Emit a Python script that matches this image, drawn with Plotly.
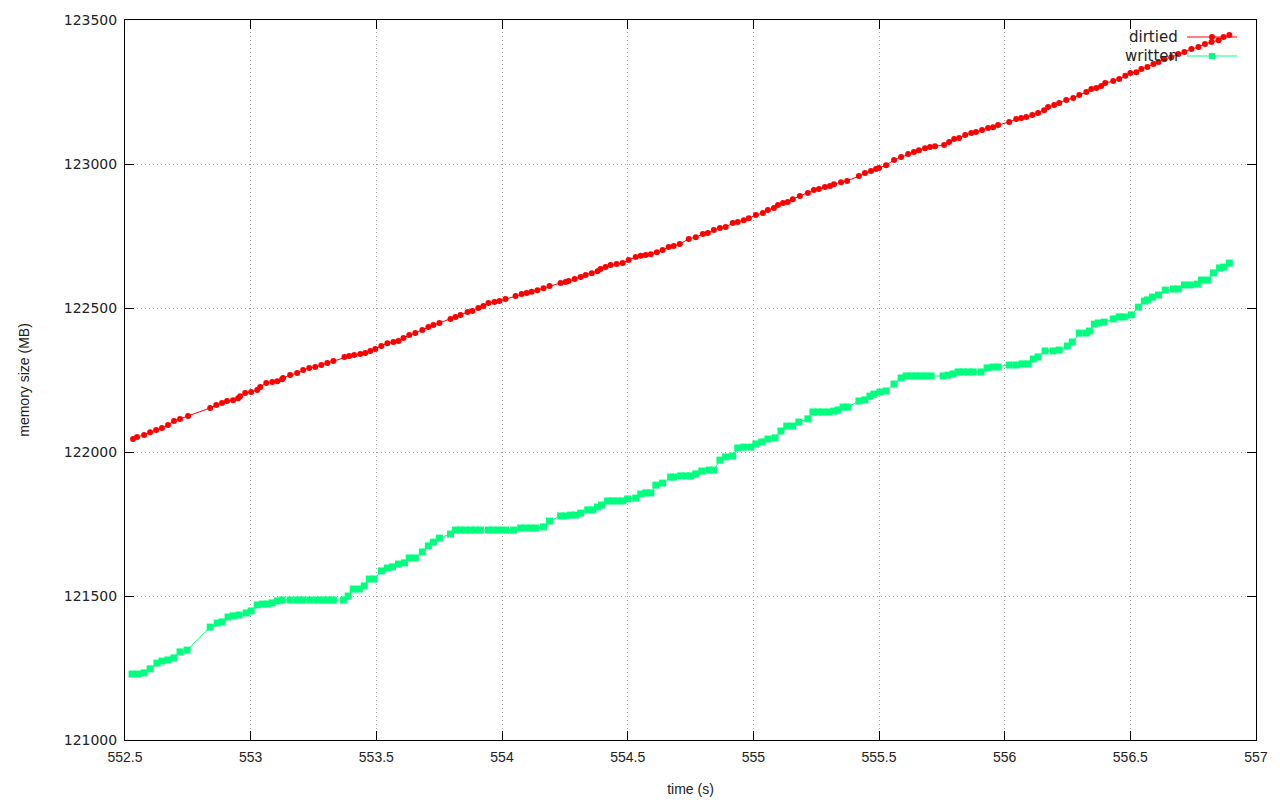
import plotly.graph_objects as go

# ---- data ----
dirtied_t = [552.532, 552.548, 552.576, 552.600, 552.624, 552.647, 552.671, 552.695, 552.719, 552.751,
             552.839, 552.863, 552.886, 552.906, 552.930, 552.950, 552.958, 552.978, 553.002, 553.026,
             553.038, 553.062, 553.086, 553.106, 553.125, 553.129, 553.157, 553.185, 553.209, 553.233,
             553.257, 553.281, 553.305, 553.329, 553.373, 553.392, 553.412, 553.436, 553.456, 553.476,
             553.496, 553.520, 553.544, 553.568, 553.588, 553.608, 553.631, 553.655, 553.683, 553.707,
             553.727, 553.751, 553.795, 553.815, 553.835, 553.863, 553.882, 553.906, 553.926, 553.946,
             553.970, 553.990, 554.014, 554.054, 554.078, 554.098, 554.118, 554.141, 554.165, 554.189,
             554.233, 554.253, 554.265, 554.289, 554.313, 554.333, 554.357, 554.380, 554.392, 554.412,
             554.432, 554.456, 554.480, 554.504, 554.532, 554.552, 554.572, 554.592, 554.616, 554.639,
             554.663, 554.683, 554.707, 554.743, 554.771, 554.799, 554.819, 554.843, 554.867, 554.890,
             554.918, 554.938, 554.962, 554.982, 555.010, 555.038, 555.058, 555.082, 555.098, 555.118,
             555.137, 555.157, 555.185, 555.217, 555.241, 555.261, 555.285, 555.305, 555.321, 555.349,
             555.373, 555.420, 555.444, 555.468, 555.488, 555.500, 555.528, 555.560, 555.588, 555.616,
             555.639, 555.659, 555.683, 555.703, 555.723, 555.759, 555.779, 555.799, 555.819, 555.843,
             555.867, 555.886, 555.910, 555.934, 555.954, 555.974, 556.018, 556.046, 556.066, 556.086,
             556.110, 556.133, 556.157, 556.173, 556.197, 556.217, 556.245, 556.273, 556.297, 556.325,
             556.345, 556.365, 556.384, 556.400, 556.432, 556.456, 556.480, 556.500, 556.524, 556.544,
             556.568, 556.592, 556.612, 556.635, 556.663, 556.691, 556.715, 556.743, 556.771, 556.797,
             556.823, 556.851, 556.871, 556.894]
dirtied_mb = [122045, 122052, 122059, 122069, 122076, 122083, 122094, 122108, 122115, 122125,
              122153, 122163, 122170, 122177, 122180, 122187, 122194, 122205, 122208, 122215,
              122226, 122240, 122243, 122246, 122253, 122257, 122267, 122274, 122285, 122292,
              122295, 122302, 122309, 122316, 122330, 122333, 122337, 122340, 122344, 122351,
              122358, 122368, 122378, 122382, 122385, 122396, 122406, 122413, 122424, 122434,
              122441, 122448, 122462, 122469, 122476, 122486, 122490, 122500, 122507, 122517,
              122521, 122524, 122531, 122542, 122549, 122552, 122556, 122562, 122569, 122576,
              122587, 122590, 122594, 122601, 122608, 122615, 122621, 122628, 122635, 122642,
              122649, 122653, 122656, 122667, 122677, 122681, 122684, 122687, 122694, 122701,
              122712, 122715, 122722, 122740, 122746, 122757, 122760, 122771, 122778, 122781,
              122795, 122799, 122805, 122812, 122823, 122830, 122840, 122847, 122858, 122865,
              122868, 122878, 122889, 122899, 122910, 122913, 122920, 122924, 122930, 122937,
              122941, 122958, 122969, 122976, 122983, 122986, 122996, 123014, 123024, 123035,
              123042, 123048, 123055, 123059, 123062, 123066, 123076, 123087, 123090, 123101,
              123108, 123111, 123118, 123125, 123128, 123135, 123146, 123156, 123160, 123163,
              123170, 123177, 123187, 123198, 123205, 123212, 123222, 123229, 123240, 123250,
              123260, 123264, 123271, 123281, 123288, 123295, 123306, 123316, 123319, 123330,
              123337, 123347, 123354, 123364, 123371, 123382, 123389, 123399, 123406, 123417,
              123424, 123430, 123441, 123448]

written_t = [552.528, 552.552, 552.576, 552.600, 552.627, 552.647, 552.671, 552.695, 552.719, 552.747,
             552.839, 552.867, 552.886, 552.910, 552.930, 552.954, 552.982, 553.002, 553.026, 553.046,
             553.066, 553.086, 553.106, 553.125, 553.157, 553.185, 553.209, 553.237, 553.265, 553.289,
             553.309, 553.329, 553.369, 553.388, 553.408, 553.432, 553.452, 553.472, 553.492, 553.520,
             553.544, 553.564, 553.588, 553.612, 553.631, 553.655, 553.683, 553.707, 553.727, 553.751,
             553.795, 553.815, 553.835, 553.855, 553.875, 553.894, 553.914, 553.946, 553.966, 553.986,
             554.014, 554.046, 554.074, 554.094, 554.114, 554.135, 554.165, 554.189, 554.233, 554.253,
             554.273, 554.293, 554.313, 554.341, 554.361, 554.380, 554.396, 554.420, 554.440, 554.460,
             554.480, 554.500, 554.532, 554.552, 554.572, 554.592, 554.612, 554.639, 554.671, 554.683,
             554.711, 554.731, 554.751, 554.771, 554.795, 554.823, 554.843, 554.867, 554.890, 554.918,
             554.938, 554.962, 554.990, 555.010, 555.034, 555.058, 555.086, 555.110, 555.133, 555.157,
             555.181, 555.217, 555.237, 555.257, 555.277, 555.301, 555.321, 555.337, 555.357, 555.376,
             555.420, 555.444, 555.464, 555.480, 555.504, 555.528, 555.560, 555.588, 555.608, 555.627,
             555.647, 555.667, 555.687, 555.707, 555.755, 555.775, 555.795, 555.815, 555.835, 555.855,
             555.875, 555.906, 555.930, 555.954, 555.974, 556.018, 556.046, 556.070, 556.094, 556.114,
             556.133, 556.161, 556.193, 556.217, 556.249, 556.269, 556.297, 556.325, 556.337, 556.357,
             556.373, 556.396, 556.432, 556.456, 556.476, 556.504, 556.532, 556.556, 556.568, 556.588,
             556.612, 556.639, 556.671, 556.691, 556.715, 556.739, 556.767, 556.783, 556.807, 556.831,
             556.855, 556.871, 556.894]
written_mb = [121229, 121229, 121233, 121247, 121267, 121274, 121278, 121285, 121306, 121312,
              121392, 121406, 121410, 121427, 121431, 121434, 121441, 121448, 121469, 121472,
              121472, 121476, 121483, 121486, 121486, 121486, 121486, 121486, 121486, 121486,
              121486, 121486, 121486, 121500, 121524, 121524, 121535, 121559, 121559, 121587,
              121597, 121601, 121611, 121615, 121632, 121632, 121653, 121674, 121687, 121701,
              121715, 121729, 121729, 121729, 121729, 121729, 121729, 121729, 121729, 121729,
              121729, 121729, 121736, 121736, 121736, 121736, 121740, 121760, 121778, 121778,
              121781, 121781, 121788, 121799, 121799, 121809, 121816, 121830, 121830, 121830,
              121830, 121837, 121840, 121854, 121858, 121858, 121885, 121892, 121913, 121913,
              121917, 121917, 121917, 121924, 121934, 121937, 121937, 121972, 121983, 121986,
              122014, 122017, 122017, 122028, 122035, 122045, 122049, 122073, 122090, 122090,
              122104, 122115, 122139, 122139, 122139, 122139, 122142, 122146, 122156, 122156,
              122177, 122181, 122194, 122201, 122208, 122212, 122236, 122257, 122264, 122264,
              122264, 122264, 122264, 122264, 122264, 122267, 122271, 122278, 122278, 122278,
              122278, 122278, 122292, 122295, 122295, 122302, 122302, 122306, 122306, 122323,
              122330, 122351, 122351, 122354, 122368, 122382, 122413, 122413, 122420, 122444,
              122448, 122451, 122462, 122469, 122469, 122476, 122503, 122524, 122528, 122538,
              122545, 122562, 122566, 122566, 122580, 122580, 122583, 122597, 122597, 122622,
              122639, 122642, 122656]

series_names = ["dirtied", "written"]
series_colors = ["#ff0000", "#00ff7f"]

x_ticks = [552.5, 553, 553.5, 554, 554.5, 555, 555.5, 556, 556.5, 557]
x_tick_labels = ["552.5", "553", "553.5", "554", "554.5", "555", "555.5", "556", "556.5", "557"]
y_ticks = [121000, 121500, 122000, 122500, 123000, 123500]
y_tick_labels = ["121000", "121500", "122000", "122500", "123000", "123500"]

fig = go.Figure()
fig.add_trace(go.Scatter(
    x=dirtied_t, y=dirtied_mb, mode="lines+markers", name=series_names[0],
    line=dict(color=series_colors[0], width=1),
    marker=dict(symbol="circle", size=6, color=series_colors[0]),
    showlegend=False,
))
fig.add_trace(go.Scatter(
    x=written_t, y=written_mb, mode="lines+markers", name=series_names[1],
    line=dict(color=series_colors[1], width=1),
    marker=dict(symbol="square", size=7, color=series_colors[1]),
    showlegend=False,
))

# gnuplot-style key (text left of the sample line); page coords -> paper coords
PW = 1131.0
PH = 720.0
def px(x):
    return (x - 125) / PW
def py(y):
    return (740 - y) / PH

key_rows = [37, 56]
for name, color, yy, sym in zip(series_names, series_colors, key_rows, ["circle", "square"]):
    fig.add_annotation(x=px(1180), y=py(yy), xref="paper", yref="paper", text=name,
                       showarrow=False, xanchor="right", yanchor="middle",
                       font=dict(family="DejaVu Sans", size=15, color="#222222"))
    fig.add_shape(type="line", xref="paper", yref="paper", x0=px(1187), x1=px(1237),
                  y0=py(yy), y1=py(yy), line=dict(color=color, width=1))
    if sym == "circle":
        fig.add_shape(type="circle", xref="paper", yref="paper", x0=px(1209), x1=px(1215),
                      y0=py(yy + 3), y1=py(yy - 3), fillcolor=color, line=dict(width=0))
    else:
        fig.add_shape(type="rect", xref="paper", yref="paper", x0=px(1209), x1=px(1215),
                      y0=py(yy + 3), y1=py(yy - 3), fillcolor=color, line=dict(width=0))

axis_common = dict(
    showline=True, linecolor="black", linewidth=1, mirror="ticks",
    ticks="inside", ticklen=9, tickcolor="black", tickwidth=1,
    showgrid=True, gridcolor="#a0a0a0", gridwidth=1, griddash="1px,3px",
    zeroline=False, automargin=False,
)

fig.update_xaxes(
    range=[552.5, 557], tickvals=x_ticks, ticktext=x_tick_labels,
    title=dict(text="time (s)", font=dict(family="Liberation Sans", size=14, color="#222222"), standoff=20),
    tickfont=dict(family="Liberation Sans Narrow, Liberation Sans", size=14, color="#222222"),
    ticklabelstandoff=4,
    **axis_common,
)
fig.update_yaxes(
    range=[121000, 123500], tickvals=y_ticks, ticktext=y_tick_labels,
    title=dict(text="memory size (MB)", font=dict(family="Liberation Sans", size=14, color="#222222"), standoff=30),
    tickfont=dict(family="DejaVu Sans", size=14, color="#222222"),
    ticklabelstandoff=4,
    **axis_common,
)

# page body has an 8px margin, so the figure is offset by 8px
fig.update_layout(
    width=1272, height=792,
    margin=dict(l=117, r=24, t=12, b=60),
    paper_bgcolor="white", plot_bgcolor="white",
    showlegend=False,
)

fig.write_html("out.html")
